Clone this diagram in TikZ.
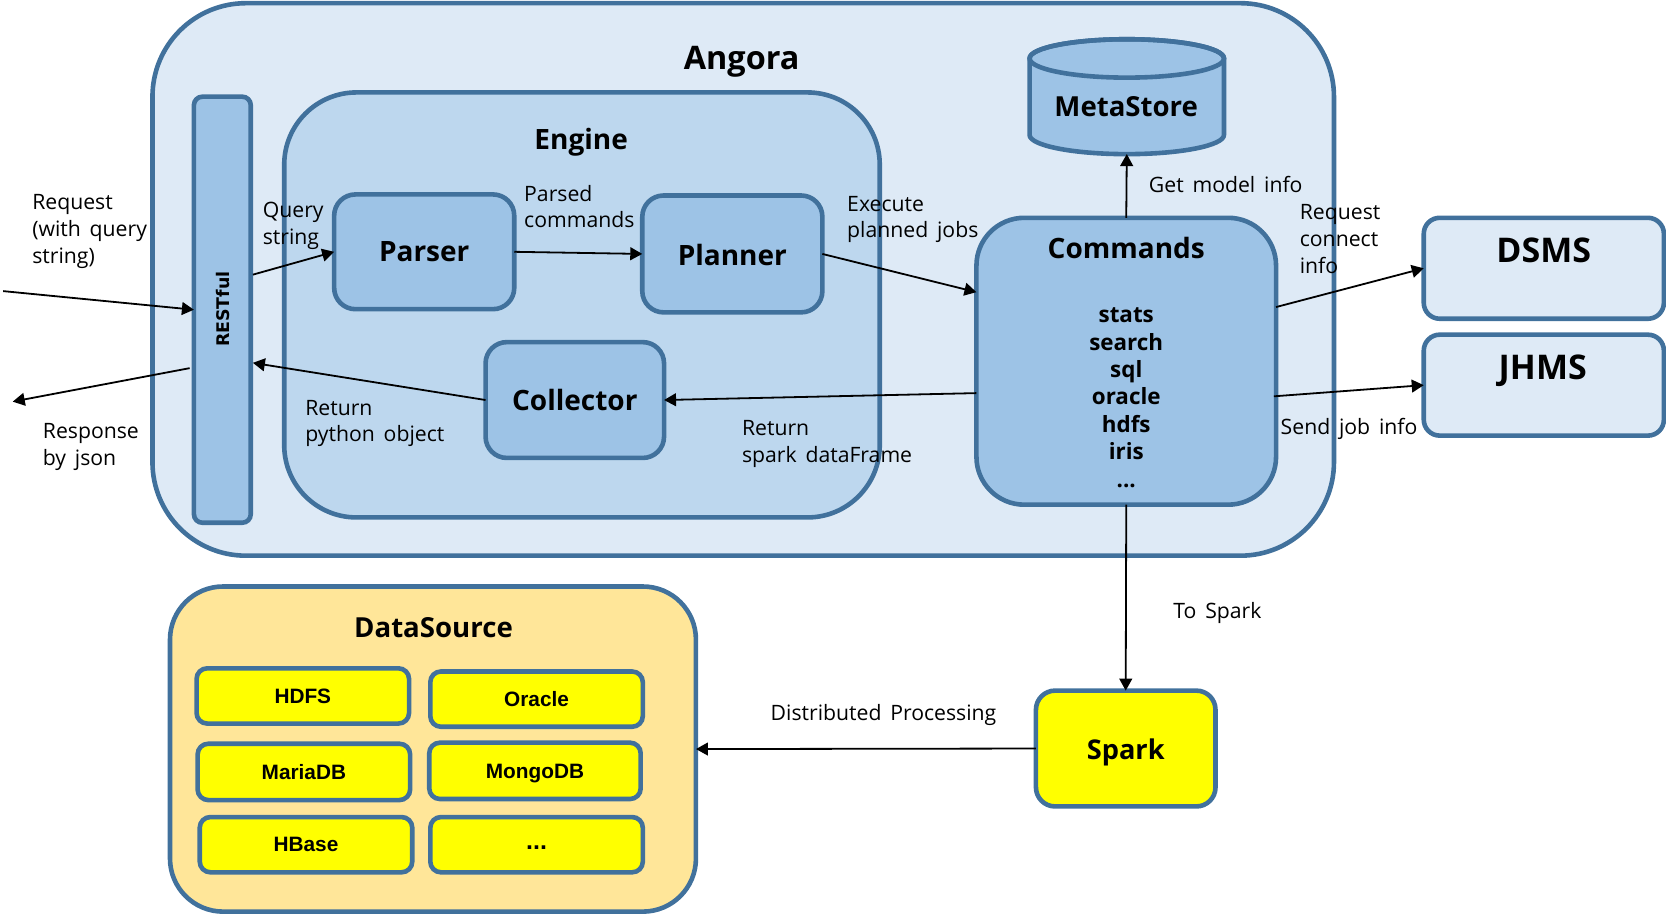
\documentclass[tikz,border=0pt]{standalone}
\usepackage{fontspec}
\setmainfont[WordSpace=1.6]{Open Sans}
\newfontfamily\arialfont{Liberation Sans}
\newfontfamily\restfont{DejaVu Sans}
\usetikzlibrary{arrows.meta,calc}
\definecolor{edgeblue}{HTML}{41719C}
\definecolor{paleblue}{HTML}{DEEAF6}
\definecolor{midblue}{HTML}{BDD7EE}
\definecolor{deepblue}{HTML}{9DC3E6}
\definecolor{sand}{HTML}{FFE699}
\definecolor{pureyellow}{RGB}{255,255,0}
\newcommand{\bx}[8]{%
  \pgfmathsetmacro{\bxw}{(#4-#2)*0.53125}%
  \pgfmathsetmacro{\bxh}{(#5-#3)*0.53125}%
  \pgfmathsetmacro{\bxr}{#6*0.53125}%
  \node[#7,minimum width=\bxw pt,minimum height=\bxh pt,rounded corners=\bxr pt] (#1) at ({(#2+#4)/2},{(#3+#5)/2}) {#8};}
\tikzset{
  boxbase/.style={rectangle,draw=edgeblue,line width=2.3pt,inner sep=0pt,outer sep=0pt,text=black,text depth=0pt},
  palebox/.style={boxbase,fill=paleblue},
  midbox/.style={boxbase,fill=midblue},
  deepbox/.style={boxbase,fill=deepblue,font=\fontsize{14}{18}\selectfont\bfseries},
  yellowbox/.style={boxbase,fill=pureyellow,font=\arialfont\fontsize{10.4}{12}\selectfont\bfseries},
  sandbox/.style={boxbase,fill=sand},
  lab/.style={anchor=base west,align=left,inner sep=0pt,font=\fontsize{10.6}{13.4}\selectfont},
  ttl/.style={anchor=base,inner sep=0pt,font=\fontsize{14}{18}\selectfont\bfseries},
  conn/.style={draw=black,line width=0.9pt,-{Triangle[length=6pt,width=6.4pt]}},
}
\begin{document}
\begin{tikzpicture}[x=0.53125pt,y=-0.53125pt]
\useasboundingbox (0,0) rectangle (1568,860.2);
% containers
\bx{angora}{143.5}{3}{1255.5}{523}{88}{palebox}{}
\bx{engine}{267.5}{87}{828}{487}{68}{midbox}{}
\bx{restful}{182.5}{91}{236}{492}{8}{deepbox}{}
\node[rotate=90,inner sep=0pt,font=\restfont\fontsize{8.7}{10}\selectfont\bfseries] (resttext) at (209.5,291) {RESTful};
\bx{parser}{314.5}{183}{484}{291}{20}{deepbox}{Parser}
\bx{planner}{604.5}{184}{774}{294}{20}{deepbox}{\raisebox{-0.5pt}{Planner}}
\bx{collector}{457}{322}{625}{431}{20}{deepbox}{Collector}
\bx{commands}{919}{205}{1201}{475}{45}{deepbox}{}
% metastore cylinder
\path[fill=deepblue,draw=edgeblue,line width=2.3pt,line join=round] (969,55) -- (969,127) arc[start angle=180,end angle=360,x radius=48.6pt,y radius=9.6pt] -- (1152,55) arc[start angle=0,end angle=180,x radius=48.6pt,y radius=9.6pt] -- cycle;
\path[draw=edgeblue,line width=2.3pt] (1060.5,55) ellipse[x radius=48.6pt,y radius=9.6pt];
\bx{metastore}{969}{37}{1152}{145}{0}{rectangle,inner sep=0pt,outer sep=0pt}{}
\bx{dsms}{1340}{205}{1566}{300}{15}{palebox}{}
\bx{jhms}{1340}{315}{1566}{410}{15}{palebox}{}
\bx{spark}{975}{650}{1144}{759}{18}{boxbase,fill=pureyellow,font=\fontsize{13.6}{18}\selectfont\bfseries}{\raisebox{-0.5pt}{Spark}}
\bx{datasource}{160}{552}{655}{858}{50}{sandbox}{}
\bx{hdfs}{185}{629}{385}{681}{10}{yellowbox}{HDFS}
\bx{oracle}{405}{632}{605}{684}{10}{yellowbox}{Oracle}
\bx{mariadb}{186}{700}{386}{753}{10}{yellowbox}{MariaDB}
\bx{mongodb}{404}{699}{603}{752}{10}{yellowbox}{\raisebox{-1pt}{MongoDB}}
\bx{hbase}{188}{769}{388}{821}{10}{yellowbox}{HBase}
\bx{dots}{405}{769}{605}{821}{10}{yellowbox}{\fontsize{12.5}{14}\selectfont\raisebox{-2.5pt}{...}}
% titles
\node[ttl,font=\fontsize{16.2}{20}\selectfont\bfseries] (tangora) at (698,65) {Angora};
\node[ttl] (tengine) at (547,141) {Engine};
\node[ttl,font=\fontsize{13.8}{18}\selectfont\bfseries] (tmeta) at (1060,110) {MetaStore};
\node[ttl] (tcmd) at (1060,243) {Commands};
\node[ttl,font=\fontsize{17}{20}\selectfont\bfseries] (tdsms) at (1453,247) {DSMS};
\node[ttl,font=\fontsize{17}{20}\selectfont\bfseries] (tjhms) at (1452,357) {JHMS};
\node[ttl,font=\fontsize{13.8}{18}\selectfont\bfseries] (tds) at (408,600) {DataSource};
\node[anchor=base,align=center,inner sep=0pt,font=\fontsize{11.2}{13.7}\selectfont\bfseries] (cmdlist) at (1060,458.5) {stats\\search\\sql\\oracle\\hdfs\\iris\\...};
% connectors
\coordinate (reqstart) at (3,274);
\coordinate (respend) at (12,378);
\draw[conn] (reqstart) -- (restful.west);
\draw[conn] ($(restful.west)+(-4,55)$) -- (respend);
\draw[conn] ($(restful.east)+(2,-33)$) -- (parser.west);
\draw[conn] (parser.east) -- (planner.west);
\draw[conn] (planner.east) -- ($(commands.west)+(0,-65)$);
\draw[conn] ($(commands.west)+(0,30)$) -- (collector.east);
\draw[conn] (collector.west) -- ($(restful.east)+(2,50)$);
\draw[conn] (commands.north) -- (metastore.south);
\draw[conn] ($(commands.east)+(0,-51)$) -- (dsms.west);
\draw[conn] ($(commands.east)+(-2,33)$) -- (jhms.west);
\draw[conn] (commands.south) -- (spark.north);
\draw[conn] (spark.west) -- (datasource.east);
% labels
\node[lab] (l1) at (30,248) {Request\\(with query\\string)};
\node[lab] (l2) at (247,230) {Query\\string};
\node[lab] (l3) at (493,214.5) {Parsed\\commands};
\node[lab] (l4) at (797,224) {Execute\\planned jobs};
\node[lab] (l5) at (1081,181.5) {Get model info};
\node[lab] (l6) at (1223,257.5) {Request\\connect\\info};
\node[lab] (l7) at (1205,408.5) {Send job info};
\node[lab] (l8) at (698,435) {Return\\spark dataFrame};
\node[lab] (l9) at (287,416) {Return\\python object};
\node[lab] (l10) at (40,438) {Response\\by json};
\node[lab] (l11) at (1104,582.5) {To Spark};
\node[lab] (l12) at (725,678.5) {Distributed Processing};
\end{tikzpicture}
\end{document}
